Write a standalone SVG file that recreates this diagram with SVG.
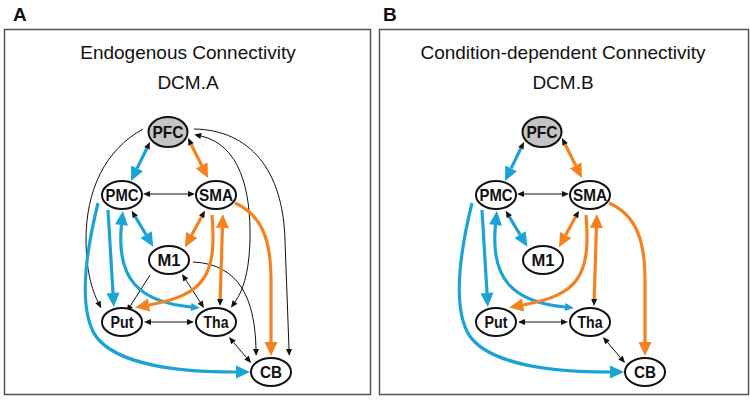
<svg xmlns="http://www.w3.org/2000/svg" width="750" height="400" viewBox="0 0 750 400">
<style>
.box{fill:#fff;stroke:#555;stroke-width:1.5}
.ttl{font-family:"Liberation Sans",Arial,sans-serif;font-size:19px;fill:#111;text-anchor:middle}
.pl{font-family:"Liberation Sans",Arial,sans-serif;font-size:19px;font-weight:bold;fill:#111}
.nd{fill:#fff;stroke:#111;stroke-width:2}
.nd.g{fill:#c4c4c4}
.nt{font-family:"Liberation Sans",Arial,sans-serif;font-size:17px;font-weight:bold;fill:#111;text-anchor:middle}
.k{fill:none;stroke:#111;stroke-width:1}
.b{fill:none;stroke:#1ba3d6;stroke-width:3.2}
.o{fill:none;stroke:#f5821f;stroke-width:3.2}
</style>
<defs>
<marker id="hb" markerUnits="userSpaceOnUse" markerWidth="15" markerHeight="13" refX="0" refY="6.5" orient="auto-start-reverse" overflow="visible"><path d="M0,0 L14,6.5 L0,13 z" fill="#1ba3d6"/></marker>
<marker id="ho" markerUnits="userSpaceOnUse" markerWidth="15" markerHeight="13" refX="0" refY="6.5" orient="auto-start-reverse" overflow="visible"><path d="M0,0 L14,6.5 L0,13 z" fill="#f5821f"/></marker>
<marker id="hbs" markerUnits="userSpaceOnUse" markerWidth="10" markerHeight="8" refX="0" refY="4" orient="auto-start-reverse" overflow="visible"><path d="M0,0 L9,4 L0,8 z" fill="#1ba3d6"/></marker>
<marker id="hk" markerUnits="userSpaceOnUse" markerWidth="8" markerHeight="6" refX="0" refY="3" orient="auto-start-reverse" overflow="visible"><path d="M0,0 L7,3 L0,6 z" fill="#111"/></marker>
</defs>
<rect width="750" height="400" fill="#fff"/>
<rect class="box" x="4.5" y="29.5" width="366" height="365"/>
<rect class="box" x="379.5" y="29.5" width="369" height="365"/>
<text class="pl" x="13" y="21">A</text>
<text class="pl" x="383" y="21">B</text>
<text class="ttl" x="188" y="59">Endogenous Connectivity</text>
<text class="ttl" x="188" y="89">DCM.A</text>
<text class="ttl" x="563" y="59">Condition-dependent Connectivity</text>
<text class="ttl" x="563" y="89">DCM.B</text>

<g id="panelA">
<g id="A-connectors">
<path class="k" d="M143,129 C105,150 86,190 86,240 C86,270 92,290 98,302" marker-end="url(#hk)"/>
<path class="k" d="M201,136 C240,145 251,190 250,240 C249,275 242,292 235,302" marker-start="url(#hk)" marker-end="url(#hk)"/>
<path class="k" d="M194,129 C250,130 283,170 285,240 L289,349" marker-end="url(#hk)"/>
<path class="k" d="M193,262 C240,264 255,300 256,349" marker-end="url(#hk)"/>
<path class="k" d="M150,275 L130.4,305.8" marker-end="url(#hk)"/>
<path class="k" d="M185.8,279.9 L200.2,302.1" marker-start="url(#hk)" marker-end="url(#hk)"/>
<path class="k" d="M150,194 L188,194" marker-start="url(#hk)" marker-end="url(#hk)"/>
<path class="k" d="M151,322 L187,322" marker-start="url(#hk)" marker-end="url(#hk)"/>
<path class="k" d="M233.5,342.4 L246.5,357.6" marker-start="url(#hk)" marker-end="url(#hk)"/>
<path class="b" d="M146.9,148.3 L137.1,168.4" marker-start="url(#hk)" marker-end="url(#hb)"/>
<path class="o" d="M191.1,144.3 L201.7,165.5" marker-start="url(#hk)" marker-end="url(#ho)"/>
<path class="b" d="M135.3,216.7 L146.1,234.7" marker-start="url(#hk)" marker-end="url(#hb)"/>
<path class="o" d="M201.6,216.8 L191.7,235" marker-start="url(#hk)" marker-end="url(#ho)"/>
<path class="b" d="M108,210 L113,293" marker-end="url(#hb)"/>
<path class="b" d="M121.5,225 C116,280 140,302 191,307" marker-start="url(#hb)" marker-end="url(#hbs)"/>
<path class="b" d="M98,203 C84,260 80,310 95,335 C115,365 180,372 236,372" marker-end="url(#hb)"/>
<path class="o" d="M212,215 C217,275 205,295 149,305" marker-end="url(#ho)"/>
<path class="o" d="M222.4,228 L220.2,299" marker-start="url(#ho)" marker-end="url(#hk)"/>
<path class="o" d="M235,203 C262,215 271,240 271,280 L271,342" marker-end="url(#ho)"/>
</g>
<g id="A-PFC"><ellipse class="nd g" cx="168" cy="132" rx="19.5" ry="15"/><text class="nt" x="168" y="138" textLength="31" lengthAdjust="spacingAndGlyphs">PFC</text></g>
<g id="A-PMC"><ellipse class="nd" cx="122" cy="195" rx="20" ry="14"/><text class="nt" x="122" y="201" textLength="33" lengthAdjust="spacingAndGlyphs">PMC</text></g>
<g id="A-SMA"><ellipse class="nd" cx="216" cy="195" rx="20" ry="14"/><text class="nt" x="216" y="201" textLength="34" lengthAdjust="spacingAndGlyphs">SMA</text></g>
<g id="A-M1"><ellipse class="nd" cx="169" cy="260" rx="20" ry="14"/><text class="nt" x="169" y="266" textLength="23" lengthAdjust="spacingAndGlyphs">M1</text></g>
<g id="A-Put"><ellipse class="nd" cx="122" cy="322" rx="20" ry="14"/><text class="nt" x="122" y="328" textLength="23" lengthAdjust="spacingAndGlyphs">Put</text></g>
<g id="A-Tha"><ellipse class="nd" cx="216" cy="322" rx="20" ry="14"/><text class="nt" x="216" y="328" textLength="25" lengthAdjust="spacingAndGlyphs">Tha</text></g>
<g id="A-CB"><ellipse class="nd" cx="271" cy="372" rx="20" ry="14"/><text class="nt" x="271" y="378" textLength="22" lengthAdjust="spacingAndGlyphs">CB</text></g>
</g>

<g id="panelB" transform="translate(374,0)">
<g id="B-connectors">
<path class="k" d="M150,194 L188,194" marker-start="url(#hk)" marker-end="url(#hk)"/>
<path class="k" d="M151,322 L187,322" marker-start="url(#hk)" marker-end="url(#hk)"/>
<path class="k" d="M233.5,342.4 L246.5,357.6" marker-start="url(#hk)" marker-end="url(#hk)"/>
<path class="b" d="M146.9,148.3 L137.1,168.4" marker-start="url(#hk)" marker-end="url(#hb)"/>
<path class="o" d="M191.1,144.3 L201.7,165.5" marker-start="url(#hk)" marker-end="url(#ho)"/>
<path class="b" d="M135.3,216.7 L146.1,234.7" marker-start="url(#hk)" marker-end="url(#hb)"/>
<path class="o" d="M201.6,216.8 L191.7,235" marker-start="url(#hk)" marker-end="url(#ho)"/>
<path class="b" d="M108,210 L113,293" marker-end="url(#hb)"/>
<path class="b" d="M121.5,225 C116,280 140,302 191,307" marker-start="url(#hb)" marker-end="url(#hbs)"/>
<path class="b" d="M98,203 C84,260 80,310 95,335 C115,365 180,372 236,372" marker-end="url(#hb)"/>
<path class="o" d="M212,215 C217,275 205,295 149,305" marker-end="url(#ho)"/>
<path class="o" d="M222.4,228 L220.2,299" marker-start="url(#ho)" marker-end="url(#hk)"/>
<path class="o" d="M235,203 C262,215 271,240 271,280 L271,342" marker-end="url(#ho)"/>
</g>
<g id="B-PFC"><ellipse class="nd g" cx="168" cy="132" rx="19.5" ry="15"/><text class="nt" x="168" y="138" textLength="31" lengthAdjust="spacingAndGlyphs">PFC</text></g>
<g id="B-PMC"><ellipse class="nd" cx="122" cy="195" rx="20" ry="14"/><text class="nt" x="122" y="201" textLength="33" lengthAdjust="spacingAndGlyphs">PMC</text></g>
<g id="B-SMA"><ellipse class="nd" cx="216" cy="195" rx="20" ry="14"/><text class="nt" x="216" y="201" textLength="34" lengthAdjust="spacingAndGlyphs">SMA</text></g>
<g id="B-M1"><ellipse class="nd" cx="169" cy="260" rx="20" ry="14"/><text class="nt" x="169" y="266" textLength="23" lengthAdjust="spacingAndGlyphs">M1</text></g>
<g id="B-Put"><ellipse class="nd" cx="122" cy="322" rx="20" ry="14"/><text class="nt" x="122" y="328" textLength="23" lengthAdjust="spacingAndGlyphs">Put</text></g>
<g id="B-Tha"><ellipse class="nd" cx="216" cy="322" rx="20" ry="14"/><text class="nt" x="216" y="328" textLength="25" lengthAdjust="spacingAndGlyphs">Tha</text></g>
<g id="B-CB"><ellipse class="nd" cx="271" cy="372" rx="20" ry="14"/><text class="nt" x="271" y="378" textLength="22" lengthAdjust="spacingAndGlyphs">CB</text></g>
</g>
</svg>
